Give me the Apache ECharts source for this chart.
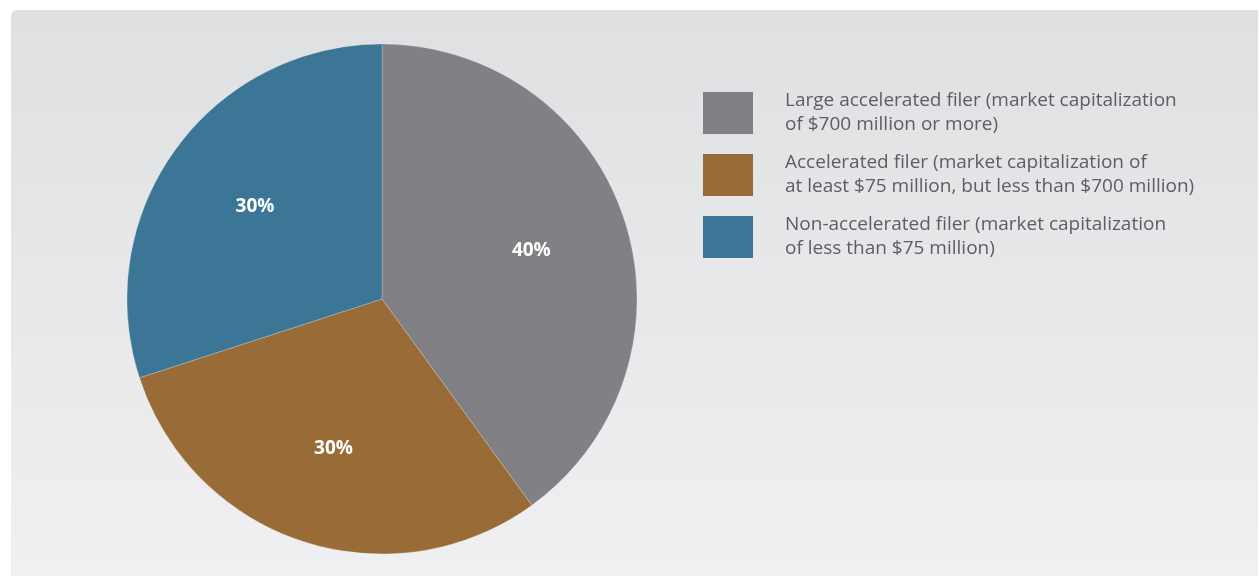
<!DOCTYPE html>
<html>
<head>
<meta charset="utf-8">
<script src="https://cdn.jsdelivr.net/npm/echarts@6/dist/echarts.min.js"></script>
<style>
  html, body { margin: 0; padding: 0; background: #ffffff; }
  #chart { width: 1259px; height: 577px; }
</style>
</head>
<body>
<div id="chart"></div>
<script>
// Filer categories and their shares of companies (percent)
const categories = [
  'Large accelerated filer (market capitalization\nof $700 million or more)',
  'Accelerated filer (market capitalization of\nat least $75 million, but less than $700 million)',
  'Non-accelerated filer (market capitalization\nof less than $75 million)'
];
const shares = [40, 30, 30];
const sliceColors = ['#808085', '#986b37', '#3b7696'];

const pieData = categories.map((name, i) => ({
  name: name,
  value: shares[i],
  itemStyle: { color: sliceColors[i] }
}));

const chart = echarts.init(document.getElementById('chart'), null, { renderer: 'canvas' });

chart.setOption({
  animation: false,
  backgroundColor: '#ffffff',
  graphic: [{
    type: 'rect',
    z: -10,
    silent: true,
    shape: { x: 11, y: 10, width: 1247, height: 566, r: [6, 0, 0, 0] },
    style: {
      fill: new echarts.graphic.LinearGradient(0, 0, 0, 1, [
        { offset: 0, color: '#dfe0e2' },
        { offset: 1, color: '#f0f0f2' }
      ])
    }
  }],
  legend: {
    orient: 'vertical',
    left: 703,
    top: 89,
    padding: 0,
    itemWidth: 50,
    itemHeight: 42,
    itemGap: 14,
    icon: 'rect',
    selectedMode: false,
    itemStyle: { borderWidth: 0 },
    data: categories,
    textStyle: {
      fontFamily: 'Open Sans',
      fontSize: 19,
      lineHeight: 24,
      color: '#5d5d62',
      padding: [0, 0, 0, 27]
    }
  },
  series: [
    {
      type: 'pie',
      center: [382, 299],
      radius: [0, 255],
      startAngle: 90,
      clockwise: true,
      silent: true,
      label: { show: false },
      labelLine: { show: false },
      itemStyle: { borderColor: 'rgba(255,255,255,0.35)', borderWidth: 0.6 },
      data: pieData
    },
    {
      // percentage labels, placed at about 60% of the radius
      type: 'pie',
      center: [382, 299],
      radius: [53, 255],
      startAngle: 90,
      clockwise: true,
      silent: true,
      legendHoverLink: false,
      itemStyle: { color: 'rgba(0,0,0,0)', borderWidth: 0 },
      label: {
        show: true,
        position: 'inside',
        formatter: '{c}%',
        color: '#ffffff',
        fontFamily: 'Open Sans',
        fontWeight: 'bold',
        fontSize: 19
      },
      labelLine: { show: false },
      data: categories.map((name, i) => ({
        name: name,
        value: shares[i],
        itemStyle: { color: 'rgba(0,0,0,0)' }
      }))
    }
  ]
});
</script>
</body>
</html>
